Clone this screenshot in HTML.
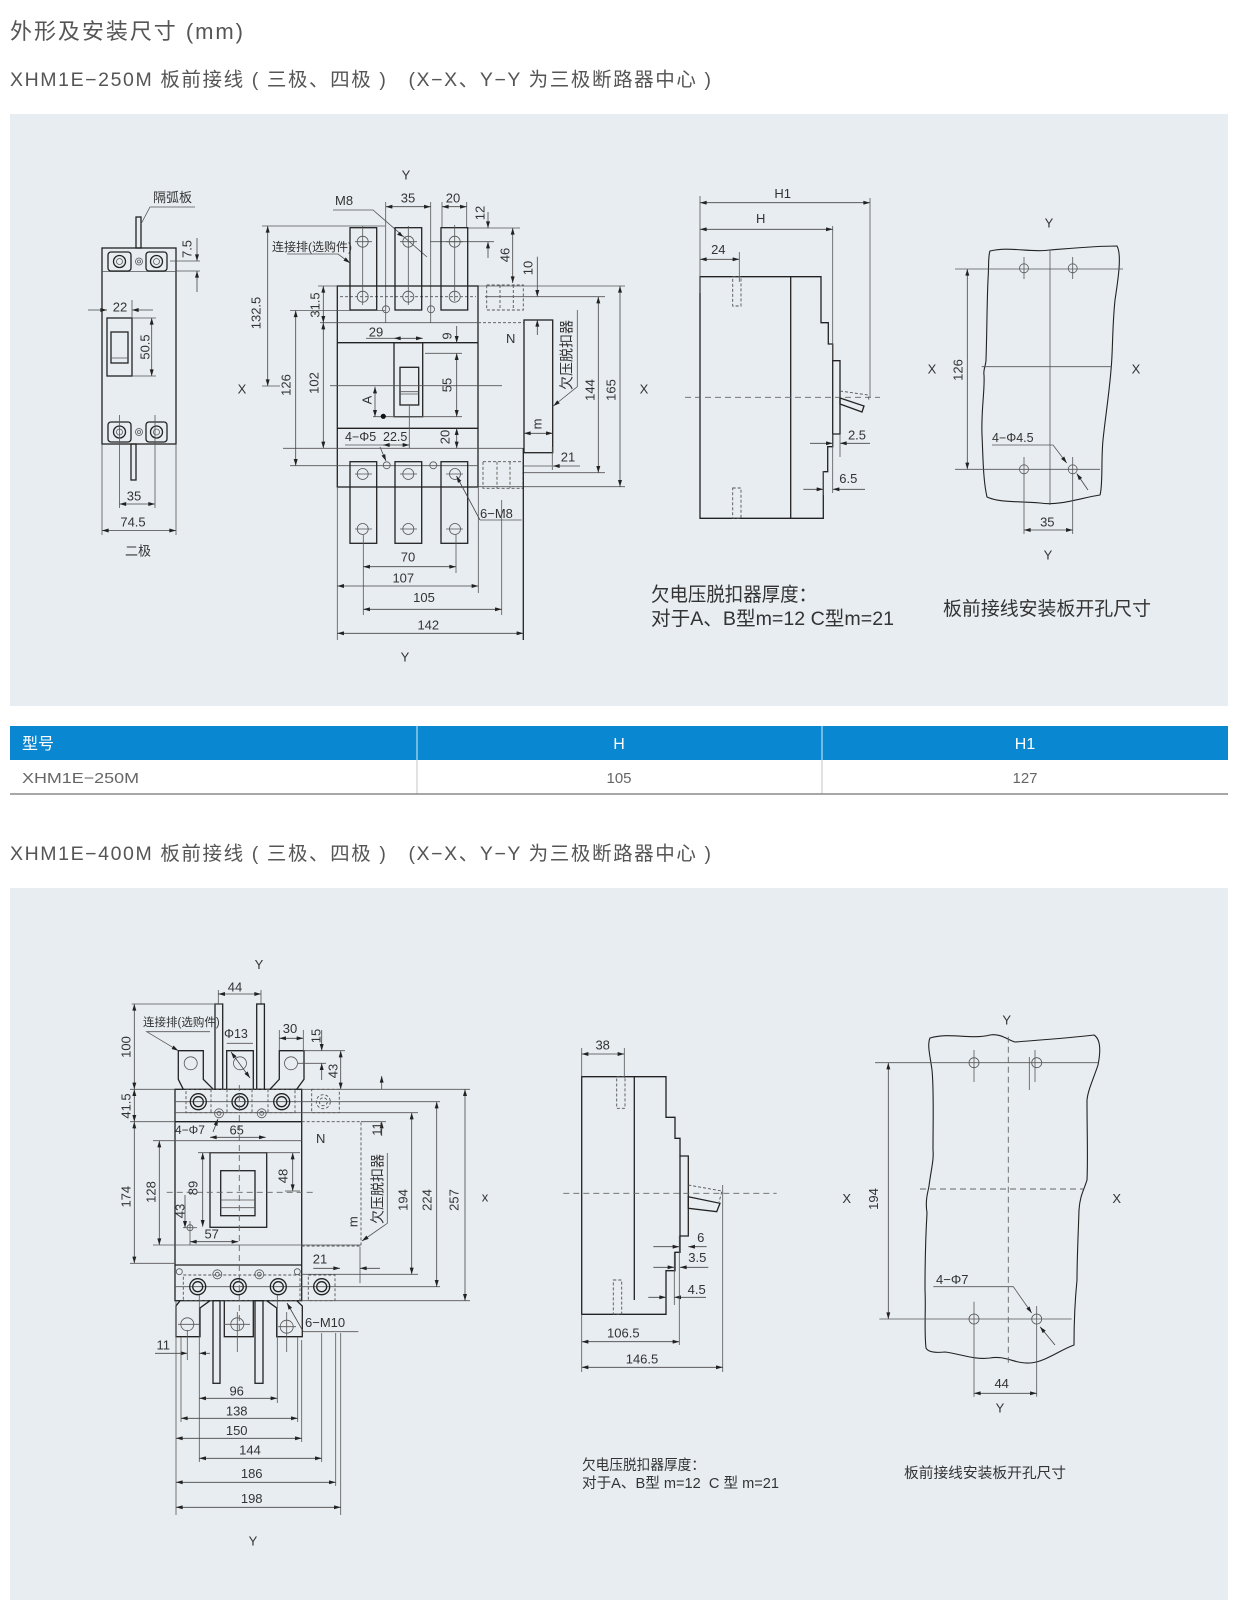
<!DOCTYPE html>
<html><head><meta charset="utf-8"><style>
html,body{margin:0;padding:0;background:#fff;}
svg{display:block}
text{font-family:"Liberation Sans","Noto Sans CJK SC",sans-serif;fill:#333;font-size:13px}
.o{stroke:#222;stroke-width:1.3;fill:none}
.t{stroke:#555;stroke-width:0.8;fill:none}
.dd{stroke:#444;stroke-width:0.8;fill:none;marker-start:url(#ar);marker-end:url(#ar)}
.d1{stroke:#444;stroke-width:0.8;fill:none;marker-end:url(#ar)}
.da{stroke:#666;stroke-width:0.9;fill:none;stroke-dasharray:6 4}
.ds{stroke:#555;stroke-width:0.9;fill:none;stroke-dasharray:3 2}
.c{text-anchor:middle}
</style></head><body>
<svg width="1234" height="1600" viewBox="0 0 1234 1600" xmlns="http://www.w3.org/2000/svg">
<defs>
<marker id="ar" viewBox="0 0 10 6" refX="10" refY="3" markerWidth="7" markerHeight="4" orient="auto-start-reverse" markerUnits="userSpaceOnUse"><path d="M0,0 L10,3 L0,6 z" fill="#222"/></marker>
</defs>
<rect x="0" y="0" width="1234" height="1600" fill="#fff"/>

<!-- Header -->
<text x="10" y="39" style="font-size:22px;fill:#555" textLength="233" lengthAdjust="spacing">外形及安装尺寸 (mm)</text>
<text x="10" y="86" style="font-size:19.5px;fill:#555;white-space:pre" textLength="701" lengthAdjust="spacing">XHM1E−250M 板前接线 ( 三极、四极 )   (X−X、Y−Y 为三极断路器中心 )</text>

<!-- Panel 1 -->
<rect x="10" y="114" width="1218" height="592" fill="#e8edf1"/>

<!-- 2-pole view -->
<rect class="o" x="102" y="248" width="74" height="196"/>
<line class="t" x1="102" y1="271.5" x2="176" y2="271.5"/>
<rect class="o" x="108" y="252" width="23" height="19" rx="3"/>
<rect class="o" x="146" y="252" width="21" height="19" rx="3"/>
<circle class="o" cx="119.5" cy="261.5" r="6"/><circle class="t" cx="119.5" cy="261.5" r="3"/>
<circle class="o" cx="156.5" cy="261.5" r="6"/><circle class="t" cx="156.5" cy="261.5" r="3"/>
<circle class="t" cx="139" cy="261.5" r="3.5"/><circle class="t" cx="139" cy="261.5" r="1.5"/>
<rect class="o" x="136" y="217" width="5" height="31"/>
<polyline class="t" points="141,224 150,207 195,207"/>
<text x="153" y="202" style="font-size:13px">隔弧板</text>
<line class="t" x1="170" y1="261" x2="200" y2="261"/><line class="t" x1="176" y1="271" x2="200" y2="271"/>
<line class="d1" x1="197" y1="238" x2="197" y2="261"/><line class="d1" x1="197" y1="292" x2="197" y2="271"/>
<text class="c" transform="translate(187 249) rotate(-90)" dy="0.35em">7.5</text>
<rect class="o" x="107" y="318" width="25" height="58"/>
<rect class="o" x="111" y="332" width="17" height="31"/>
<line class="t" x1="111" y1="358" x2="128" y2="358"/>
<line class="d1" x1="88" y1="310" x2="107" y2="310"/><line class="d1" x1="153" y1="310" x2="132" y2="310"/>
<line class="t" x1="132" y1="300" x2="132" y2="318"/>
<text class="c" x="120" y="307" dy="0.35em">22</text>
<line class="t" x1="132" y1="318" x2="156" y2="318"/><line class="t" x1="132" y1="376" x2="156" y2="376"/>
<line class="dd" x1="151.7" y1="318" x2="151.7" y2="376"/>
<text class="c" transform="translate(145 347) rotate(-90)" dy="0.35em">50.5</text>
<rect class="o" x="108" y="422" width="23" height="20" rx="3"/>
<rect class="o" x="146" y="422" width="21" height="20" rx="3"/>
<circle class="o" cx="119.5" cy="432" r="6"/><circle class="t" cx="119.5" cy="432" r="3"/>
<circle class="o" cx="156.5" cy="432" r="6"/><circle class="t" cx="156.5" cy="432" r="3"/>
<circle class="t" cx="139" cy="432" r="3.5"/><circle class="t" cx="139" cy="432" r="1.5"/>
<rect class="o" x="131" y="444" width="5" height="36"/>
<line class="t" x1="119.5" y1="415" x2="119.5" y2="508"/><line class="t" x1="155" y1="415" x2="155" y2="508"/>
<line class="t" x1="102" y1="444" x2="102" y2="535"/><line class="t" x1="176" y1="444" x2="176" y2="535"/>
<line class="dd" x1="119.5" y1="504" x2="155" y2="504"/>
<text class="c" x="134" y="496" dy="0.35em">35</text>
<line class="dd" x1="102" y1="530.5" x2="176" y2="530.5"/>
<text class="c" x="133" y="522" dy="0.35em">74.5</text>
<text class="c" x="138" y="551" dy="0.35em">二极</text>

<!-- 3-pole main view -->
<text class="c" x="406" y="175" dy="0.35em">Y</text>
<text x="335" y="205">M8</text>
<polyline class="t" points="333,210 373,210 427,257"/>
<path d="M403,236.7 l-6,-2 3,-3 z" fill="#222"/>
<line class="t" x1="385.7" y1="202" x2="385.7" y2="323"/><line class="t" x1="430.7" y1="202" x2="430.7" y2="323"/>
<line class="dd" x1="385.7" y1="206.7" x2="430.7" y2="206.7"/>
<text class="c" x="408" y="198" dy="0.35em">35</text>
<line class="t" x1="442" y1="202" x2="442" y2="228"/><line class="t" x1="466.7" y1="202" x2="466.7" y2="228"/>
<line class="dd" x1="442" y1="206.7" x2="466.7" y2="206.7"/>
<text class="c" x="453" y="198" dy="0.35em">20</text>
<line class="t" x1="466.7" y1="228" x2="520" y2="228"/><line class="t" x1="430" y1="241.7" x2="494" y2="241.7"/>
<line class="d1" x1="488" y1="212" x2="488" y2="228"/><line class="d1" x1="488" y1="258" x2="488" y2="241.7"/>
<text class="c" transform="translate(480 213) rotate(-90)" dy="0.35em">12</text>
<line class="dd" x1="512.7" y1="228" x2="512.7" y2="283"/>
<text class="c" transform="translate(505 255) rotate(-90)" dy="0.35em">46</text>
<line class="d1" x1="537.3" y1="256.7" x2="537.3" y2="296.7"/><line class="d1" x1="537.3" y1="335" x2="537.3" y2="320"/>
<text class="c" transform="translate(528 268) rotate(-90)" dy="0.35em">10</text>
<line class="t" x1="478" y1="286" x2="625" y2="286"/><line class="t" x1="485" y1="296.7" x2="605" y2="296.7"/>
<!-- body -->
<rect class="o" x="337.3" y="286" width="140.7" height="201"/>
<line class="o" x1="337.3" y1="342.7" x2="478" y2="342.7"/>
<line class="o" x1="337.3" y1="428.3" x2="478" y2="428.3"/>
<line class="t" x1="320" y1="322.7" x2="478" y2="322.7"/>
<line class="ds" x1="478" y1="322.7" x2="524" y2="322.7"/>
<line class="ds" x1="340" y1="296.7" x2="476" y2="296.7"/>
<!-- top terminals -->
<rect class="o" x="350" y="227.7" width="26.7" height="82.3"/>
<rect class="o" x="395" y="227.7" width="26.7" height="82.3"/>
<rect class="o" x="441" y="227.7" width="26.7" height="82.3"/>
<g class="t">
<circle cx="362.7" cy="241.7" r="5.5"/><circle cx="362.7" cy="296.7" r="5.5"/>
<circle cx="408.3" cy="241.7" r="5.5"/><circle cx="408.3" cy="296.7" r="5.5"/>
<circle cx="454.7" cy="241.7" r="5.5"/><circle cx="454.7" cy="296.7" r="5.5"/>
<line x1="362.7" y1="226" x2="362.7" y2="305"/><line x1="408.3" y1="226" x2="408.3" y2="305"/><line x1="454.7" y1="225" x2="454.7" y2="301"/>
<line x1="355" y1="241.7" x2="372" y2="241.7"/><line x1="400" y1="241.7" x2="417" y2="241.7"/><line x1="446" y1="241.7" x2="463" y2="241.7"/>
<circle cx="386" cy="309.3" r="3.5"/><circle cx="431" cy="309.3" r="3.5"/>
</g>
<rect class="ds" x="486.7" y="285" width="36.6" height="25"/>
<line class="ds" x1="500" y1="285" x2="500" y2="310"/><line class="ds" x1="513.3" y1="285" x2="513.3" y2="310"/>
<!-- handle -->
<rect class="o" x="394" y="342.7" width="28.7" height="74"/>
<rect class="o" x="400" y="367.3" width="18.7" height="37.7"/>
<line class="t" x1="400" y1="391.7" x2="418.7" y2="391.7"/><line class="t" x1="400" y1="394" x2="418.7" y2="394"/>
<line class="t" x1="330" y1="385.7" x2="502" y2="385.7"/>
<line class="t" x1="425" y1="353.3" x2="462" y2="353.3"/><line class="t" x1="373" y1="416.7" x2="462" y2="416.7"/>
<line class="dd" x1="456.7" y1="353.3" x2="456.7" y2="416.7"/>
<text class="c" transform="translate(447 385) rotate(-90)" dy="0.35em">55</text>
<line class="d1" x1="456.7" y1="326" x2="456.7" y2="342.7"/>
<text class="c" transform="translate(447 336) rotate(-90)" dy="0.35em">9</text>
<line class="t" x1="366" y1="338.3" x2="394" y2="338.3"/>
<line class="dd" x1="394" y1="338.3" x2="422.7" y2="338.3"/>
<text class="c" x="376" y="332" dy="0.35em">29</text>
<line class="dd" x1="375" y1="386.7" x2="375" y2="416.7"/>
<text class="c" transform="translate(367 400) rotate(-90)" dy="0.35em">A</text>
<circle cx="383.3" cy="416.3" r="2.6" fill="#111"/>
<line class="t" x1="409.3" y1="405" x2="409.3" y2="448"/>
<text x="345" y="441" style="font-size:12.5px">4−Φ5</text>
<text x="383" y="441" style="font-size:12.5px">22.5</text>
<line class="t" x1="345" y1="445" x2="383" y2="445"/>
<line class="dd" x1="383" y1="445" x2="409.3" y2="445"/>
<line class="dd" x1="456.7" y1="428.3" x2="456.7" y2="448.3"/>
<text class="c" transform="translate(445 437) rotate(-90)" dy="0.35em">20</text>
<line class="d1" x1="380" y1="447" x2="386" y2="461"/>
<line class="t" x1="283" y1="448.3" x2="523" y2="448.3"/>
<line class="t" x1="290" y1="465.7" x2="478" y2="465.7"/>
<g class="t"><circle cx="386.7" cy="465.3" r="3.5"/><circle cx="433.3" cy="465.3" r="3.5"/></g>
<!-- lower terminals -->
<rect class="o" x="350" y="461.7" width="26.7" height="81.6"/>
<rect class="o" x="395" y="461.7" width="26.7" height="81.6"/>
<rect class="o" x="441" y="461.7" width="26.7" height="81.6"/>
<g class="t">
<circle cx="362.7" cy="474" r="5.5"/><circle cx="362.7" cy="529" r="5.5"/>
<circle cx="408.3" cy="474" r="5.5"/><circle cx="408.3" cy="529" r="5.5"/>
<circle cx="455" cy="474" r="5.5"/><circle cx="455" cy="529" r="5.5"/>
<line x1="355" y1="474" x2="372" y2="474"/><line x1="355" y1="529" x2="372" y2="529"/>
<line x1="400" y1="474" x2="417" y2="474"/><line x1="400" y1="529" x2="417" y2="529"/>
<line x1="446" y1="474" x2="463" y2="474"/><line x1="446" y1="529" x2="463" y2="529"/>
</g>
<rect class="ds" x="483" y="461.7" width="40" height="26.6"/>
<line class="ds" x1="497" y1="461.7" x2="497" y2="488"/><line class="ds" x1="510" y1="461.7" x2="510" y2="488"/>
<!-- undervoltage -->
<text class="c" x="510.7" y="338.3" dy="0.35em">N</text>
<rect class="o" x="524" y="320" width="28.7" height="132.7"/>
<text class="c" transform="translate(566.5 355) rotate(-90)" dy="0.35em" style="font-size:14px">欠压脱扣器</text>
<polyline class="t" points="577.3,310 577.3,386.7 553.3,406" style="marker-end:url(#ar)"/>
<line class="dd" x1="524" y1="433.3" x2="552.7" y2="433.3"/>
<text class="c" transform="translate(536.7 424) rotate(-90)" dy="0.35em">m</text>
<line class="t" x1="552.3" y1="447" x2="552.3" y2="470"/>
<line class="t" x1="523" y1="466" x2="552" y2="466"/>
<line class="d1" x1="580" y1="466" x2="553" y2="466"/>
<text class="c" x="568" y="457" dy="0.35em">21</text>
<line class="t" x1="523" y1="472.7" x2="605" y2="472.7"/>
<line class="t" x1="478" y1="486.7" x2="625" y2="486.7"/>
<line class="dd" x1="598.3" y1="296.7" x2="598.3" y2="472.7"/>
<text class="c" transform="translate(590 390) rotate(-90)" dy="0.35em">144</text>
<line class="dd" x1="620" y1="286" x2="620" y2="486.7"/>
<text class="c" transform="translate(611 390) rotate(-90)" dy="0.35em">165</text>
<text x="480" y="518">6−M8</text>
<line class="t" x1="480" y1="520" x2="521.7" y2="520"/>
<line class="d1" x1="480" y1="520" x2="456.5" y2="476"/>
<!-- bottom dims -->
<line class="t" x1="337.3" y1="487" x2="337.3" y2="640"/>
<line class="t" x1="363.3" y1="535" x2="363.3" y2="615"/>
<line class="t" x1="456" y1="535" x2="456" y2="573"/>
<line class="t" x1="478.3" y1="487" x2="478.3" y2="593"/>
<line class="t" x1="501.7" y1="500" x2="501.7" y2="615"/>
<line class="o" x1="523.3" y1="448" x2="523.3" y2="640"/>
<line class="dd" x1="363.3" y1="566.7" x2="456" y2="566.7"/>
<text class="c" x="408" y="556.7" dy="0.35em">70</text>
<line class="dd" x1="337.3" y1="586" x2="478.3" y2="586"/>
<text class="c" x="403.3" y="578" dy="0.35em">107</text>
<line class="dd" x1="363.3" y1="609.3" x2="501.7" y2="609.3"/>
<text class="c" x="424" y="597.3" dy="0.35em">105</text>
<line class="dd" x1="337.3" y1="633.3" x2="523.3" y2="633.3"/>
<text class="c" x="428.3" y="625" dy="0.35em">142</text>
<text class="c" x="405" y="656.7" dy="0.35em">Y</text>
<!-- left dims -->
<line class="t" x1="262" y1="226" x2="385" y2="226"/>
<line class="dd" x1="267.7" y1="226" x2="267.7" y2="386"/>
<line class="t" x1="262" y1="386" x2="280" y2="386"/>
<text class="c" transform="translate(256 313) rotate(-90)" dy="0.35em">132.5</text>
<text x="272" y="251" style="font-size:12px">连接排(选购件)</text>
<polyline class="t" points="287,254 338,254 350,263" style="marker-end:url(#ar)"/>
<line class="t" x1="318" y1="286" x2="337.3" y2="286"/>
<line class="dd" x1="323.3" y1="286" x2="323.3" y2="322.7"/>
<text class="c" transform="translate(315 305) rotate(-90)" dy="0.35em">31.5</text>
<line class="t" x1="290" y1="310.5" x2="385" y2="310.5"/>
<line class="dd" x1="295.7" y1="310.5" x2="295.7" y2="465.7"/>
<text class="c" transform="translate(286 385) rotate(-90)" dy="0.35em">126</text>
<line class="dd" x1="323.3" y1="322.7" x2="323.3" y2="448.3"/>
<text class="c" transform="translate(314 383) rotate(-90)" dy="0.35em">102</text>
<text class="c" x="242" y="389" dy="0.35em">X</text>
<text class="c" x="644" y="389" dy="0.35em">X</text>

<!-- side view 1 -->
<path class="o" d="M700,276.7 H821 V322.7 H828.3 V344 H832.7 V360.7 H840 V434 H832.7 V446.7 H827.7 V471.7 H823.3 V518.3 H700 Z"/>
<line class="o" x1="832.7" y1="360.7" x2="832.7" y2="434"/>
<line class="o" x1="790.7" y1="276.7" x2="790.7" y2="518.3"/>
<rect class="ds" x="732.7" y="276.7" width="8.3" height="29.3"/>
<rect class="ds" x="732.7" y="488" width="8.3" height="30.3"/>
<line class="t" x1="700" y1="196" x2="700" y2="293"/>
<line class="t" x1="870" y1="198" x2="870" y2="397"/>
<line class="t" x1="832.7" y1="226" x2="832.7" y2="360"/>
<line class="t" x1="832.7" y1="434" x2="832.7" y2="493"/>
<line class="t" x1="739.3" y1="252" x2="739.3" y2="282"/>
<line class="dd" x1="700" y1="202.7" x2="870" y2="202.7"/>
<text class="c" x="782.7" y="193.3" dy="0.35em">H1</text>
<line class="dd" x1="700" y1="229.3" x2="832.7" y2="229.3"/>
<text class="c" x="760.7" y="218.3" dy="0.35em">H</text>
<line class="dd" x1="700" y1="259.3" x2="739.3" y2="259.3"/>
<text class="c" x="718.3" y="249.3" dy="0.35em">24</text>
<line class="da" x1="685" y1="397.3" x2="880" y2="397.3"/>
<polygon class="o" points="840,398 864,406 862,412 840,404"/>
<polyline class="ds" points="840,391 868,395 869,400"/>
<line class="d1" x1="810" y1="443.3" x2="832.7" y2="443.3"/><line class="d1" x1="870" y1="443.3" x2="840" y2="443.3"/>
<line class="t" x1="840" y1="434" x2="840" y2="457"/>
<text class="c" x="857" y="435" dy="0.35em">2.5</text>
<line class="d1" x1="803.3" y1="489.3" x2="823.3" y2="489.3"/><line class="d1" x1="865" y1="489.3" x2="832.7" y2="489.3"/>
<line class="t" x1="823.3" y1="471" x2="823.3" y2="495"/>
<text class="c" x="848.3" y="478.3" dy="0.35em">6.5</text>
<text x="651" y="601" style="font-size:19.5px" textLength="166" lengthAdjust="spacingAndGlyphs">欠电压脱扣器厚度：</text>
<text x="651" y="625" style="font-size:19.5px" textLength="243" lengthAdjust="spacingAndGlyphs">对于A、B型m=12  C型m=21</text>

<!-- mounting plate 1 -->
<path class="o" style="stroke-width:1.1" d="M990,251 C1010,246 1030,253 1050,250 C1075,248 1095,246 1117,246 C1122,255 1118,280 1115,300 C1112,330 1113,350 1111,370 C1109,395 1105,420 1103,440 C1101,460 1103,485 1100,495 C1080,498 1060,506 1040,503 C1020,501 1000,503 987,497 C983,480 983,455 982,435 C981,410 985,390 984,375 C983,370 986,365 986,360 C987,330 987,300 988,280 C989,265 988,256 990,251 Z"/>
<line class="t" x1="955" y1="269" x2="1123" y2="269"/>
<line class="t" x1="955" y1="469.3" x2="1100" y2="469.3"/>
<line class="t" x1="981.7" y1="366.7" x2="1111.7" y2="366.7"/>
<line class="t" x1="1050" y1="250" x2="1050" y2="505"/>
<g class="t">
<circle cx="1024" cy="268.3" r="4.5"/><circle cx="1072.7" cy="268.3" r="4.5"/>
<circle cx="1024" cy="469.3" r="4.5"/><circle cx="1072.7" cy="469.3" r="4.5"/>
<line x1="1024" y1="257" x2="1024" y2="279"/><line x1="1072.7" y1="257" x2="1072.7" y2="279"/>
<line x1="1024" y1="457" x2="1024" y2="534"/><line x1="1072.7" y1="457" x2="1072.7" y2="534"/>
</g>
<line class="dd" x1="967.3" y1="269" x2="967.3" y2="469.3"/>
<text class="c" transform="translate(958 370) rotate(-90)" dy="0.35em">126</text>
<text class="c" x="932" y="369" dy="0.35em">X</text>
<text class="c" x="1136" y="369" dy="0.35em">X</text>
<text class="c" x="1049" y="222.7" dy="0.35em">Y</text>
<text class="c" x="1048" y="555" dy="0.35em">Y</text>
<text x="992" y="442" style="font-size:12.5px">4−Φ4.5</text>
<polyline class="t" points="992,445 1053,445 1066.7,463" style="marker-end:url(#ar)"/>
<line class="d1" x1="1088" y1="490" x2="1076.7" y2="473.5"/>
<line class="dd" x1="1024" y1="530" x2="1072.7" y2="530"/>
<text class="c" x="1047.3" y="521.7" dy="0.35em">35</text>
<text x="943" y="615" style="font-size:19px" textLength="208" lengthAdjust="spacingAndGlyphs">板前接线安装板开孔尺寸</text>

<!-- Table -->
<rect x="10" y="726" width="1218" height="34" fill="#0a87d1"/>
<line x1="417" y1="726" x2="417" y2="760" stroke="#d8ecf8" stroke-width="1"/>
<line x1="822" y1="726" x2="822" y2="760" stroke="#d8ecf8" stroke-width="1"/>
<text x="22" y="749" style="font-size:16px;fill:#fff">型号</text>
<text class="c" x="619" y="749" style="font-size:16px;fill:#fff">H</text>
<text class="c" x="1025" y="749" style="font-size:16px;fill:#fff">H1</text>
<line x1="417" y1="760" x2="417" y2="794" stroke="#c4c4c4" stroke-width="1"/>
<line x1="822" y1="760" x2="822" y2="794" stroke="#c4c4c4" stroke-width="1"/>
<text x="22" y="783" style="font-size:15px;fill:#666" textLength="117" lengthAdjust="spacingAndGlyphs">XHM1E−250M</text>
<text class="c" x="619" y="783" style="font-size:15px;fill:#666">105</text>
<text class="c" x="1025" y="783" style="font-size:15px;fill:#666">127</text>
<line x1="10" y1="794" x2="1228" y2="794" stroke="#8a8a8a" stroke-width="1.5"/>

<text x="10" y="860" style="font-size:19.5px;fill:#555;white-space:pre" textLength="701" lengthAdjust="spacing">XHM1E−400M 板前接线 ( 三极、四极 )   (X−X、Y−Y 为三极断路器中心 )</text>

<!-- Panel 2 -->
<rect x="10" y="888" width="1218" height="712" fill="#e8edf1"/>

<!-- main view 2 -->
<text class="c" x="259" y="964.3" dy="0.35em">Y</text>
<line class="t" x1="218.3" y1="990" x2="218.3" y2="1004"/><line class="t" x1="261" y1="990" x2="261" y2="1004"/>
<line class="dd" x1="218.3" y1="994" x2="261" y2="994"/>
<text class="c" x="235" y="986.7" dy="0.35em">44</text>
<rect class="o" x="215" y="1004" width="7.7" height="85.3"/>
<rect class="o" x="256.7" y="1004" width="7.7" height="85.3"/>
<line class="t" x1="131.7" y1="1004" x2="222" y2="1004"/>
<path class="o" d="M183.3,1089.3 L178.3,1079.3 V1050.7 H203.3 V1079.3 L213.3,1089.3"/>
<path class="o" d="M226.7,1089.3 V1050.7 H253.3 V1089.3"/>
<path class="o" d="M270,1089.3 L279.3,1079.3 V1050.7 H304 V1079.3 L296.7,1089.3"/>
<g class="t">
<circle cx="190.7" cy="1063.3" r="6.5"/><circle cx="240" cy="1063.3" r="6.5"/><circle cx="291" cy="1063.3" r="6.5"/>
</g>
<text x="143" y="1026" style="font-size:11.5px">连接排(选购件)</text>
<polyline class="t" points="210,1031.7 146.7,1031.7 178.3,1050.7" style="marker-end:url(#ar)"/>
<text x="224" y="1038" style="font-size:12.5px">Φ13</text>
<line class="t" x1="226.7" y1="1043.3" x2="253" y2="1043.3"/>
<line class="dd" x1="231" y1="1052" x2="250" y2="1078"/>
<line class="t" x1="279.3" y1="1030" x2="279.3" y2="1050.7"/><line class="t" x1="303.3" y1="1030" x2="303.3" y2="1050.7"/>
<line class="dd" x1="279.3" y1="1038.3" x2="303.3" y2="1038.3"/>
<text class="c" x="290" y="1028.3" dy="0.35em">30</text>
<line class="t" x1="304" y1="1050.7" x2="345" y2="1050.7"/>
<line class="t" x1="298" y1="1063.3" x2="326" y2="1063.3"/>
<line class="d1" x1="321.7" y1="1030" x2="321.7" y2="1050.7"/>
<line class="d1" x1="321.7" y1="1080" x2="321.7" y2="1063.3"/>
<text class="c" transform="translate(316 1036) rotate(-90)" dy="0.35em">15</text>
<line class="dd" x1="340.7" y1="1050.7" x2="340.7" y2="1089.3"/>
<text class="c" transform="translate(333 1071) rotate(-90)" dy="0.35em">43</text>
<!-- body -->
<rect class="o" x="175" y="1089.3" width="126.7" height="211.4"/>
<line class="o" x1="175" y1="1121.7" x2="301.7" y2="1121.7"/>
<line class="o" x1="175" y1="1265" x2="301.7" y2="1265"/>
<line class="t" x1="130" y1="1089.3" x2="175" y2="1089.3"/>
<line class="t" x1="301.7" y1="1089.3" x2="470" y2="1089.3"/>
<line class="t" x1="175" y1="1101.7" x2="440" y2="1101.7"/>
<line class="t" x1="175" y1="1112.7" x2="418" y2="1112.7"/>
<line class="t" x1="130" y1="1121.7" x2="175" y2="1121.7"/>
<line class="t" x1="153" y1="1140.7" x2="301.7" y2="1140.7"/>
<line class="t" x1="153" y1="1245" x2="361" y2="1245"/>
<line class="t" x1="130" y1="1263.3" x2="175" y2="1263.3"/>
<line class="t" x1="301.7" y1="1274.3" x2="418" y2="1274.3"/>
<line class="t" x1="175" y1="1286.7" x2="440" y2="1286.7"/>
<line class="t" x1="301.7" y1="1300.7" x2="470" y2="1300.7"/>
<rect class="ds" x="186" y="1089.3" width="109" height="23.4"/>
<line class="ds" x1="211" y1="1089.3" x2="211" y2="1112.7"/><line class="ds" x1="227" y1="1089.3" x2="227" y2="1112.7"/>
<line class="ds" x1="252" y1="1089.3" x2="252" y2="1112.7"/><line class="ds" x1="268" y1="1089.3" x2="268" y2="1112.7"/>
<g class="o">
<circle cx="198.3" cy="1101.7" r="8"/><circle cx="198.3" cy="1101.7" r="5"/>
<circle cx="240" cy="1101.7" r="8"/><circle cx="240" cy="1101.7" r="5"/>
<circle cx="281.7" cy="1101.7" r="8"/><circle cx="281.7" cy="1101.7" r="5"/>
</g>
<g class="t"><circle cx="219" cy="1113.3" r="4.5"/><circle cx="219" cy="1113.3" r="2"/><circle cx="261.7" cy="1113.3" r="4.5"/><circle cx="261.7" cy="1113.3" r="2"/></g>
<rect class="ds" x="311.7" y="1089.3" width="27.6" height="23.4"/>
<circle class="ds" cx="323.3" cy="1101.7" r="7"/><circle class="ds" cx="323.3" cy="1101.7" r="4"/>
<text x="175" y="1134" style="font-size:12px">4−Φ7</text>
<line class="d1" x1="213" y1="1132" x2="218" y2="1119"/>
<line class="dd" x1="210" y1="1137.3" x2="265.7" y2="1137.3"/>
<text class="c" x="236.7" y="1130" dy="0.35em">65</text>
<rect class="o" x="210" y="1152.7" width="56.7" height="74.6"/>
<rect class="o" x="220.7" y="1170.7" width="34.3" height="45"/>
<line class="t" x1="220.7" y1="1200" x2="255" y2="1200"/><line class="t" x1="220.7" y1="1207.7" x2="255" y2="1207.7"/>
<line class="da" x1="239.3" y1="1085" x2="239.3" y2="1330"/>
<line class="da" x1="166.7" y1="1192.3" x2="316.7" y2="1192.3"/>
<line class="t" x1="198" y1="1152.7" x2="300" y2="1152.7"/>
<line class="t" x1="285" y1="1191" x2="300" y2="1191"/>
<line class="dd" x1="292.7" y1="1152.7" x2="292.7" y2="1191"/>
<text class="c" transform="translate(283 1176) rotate(-90)" dy="0.35em">48</text>
<line class="dd" x1="202.7" y1="1152.7" x2="202.7" y2="1226.7"/>
<text class="c" transform="translate(193 1188) rotate(-90)" dy="0.35em">89</text>
<line class="d1" x1="185" y1="1195" x2="185" y2="1227.7"/>
<text class="c" transform="translate(180 1211) rotate(-90)" dy="0.35em">43</text>
<circle class="t" cx="190" cy="1227.7" r="3"/>
<line class="t" x1="183" y1="1227.7" x2="197" y2="1227.7"/><line class="t" x1="190" y1="1221" x2="190" y2="1245"/>
<line class="dd" x1="190" y1="1241.7" x2="238.3" y2="1241.7"/>
<text class="c" x="211.7" y="1234" dy="0.35em">57</text>
<line class="dd" x1="134.3" y1="1004" x2="134.3" y2="1089.3"/>
<text class="c" transform="translate(126 1047) rotate(-90)" dy="0.35em">100</text>
<line class="dd" x1="134.3" y1="1089.3" x2="134.3" y2="1121.7"/>
<text class="c" transform="translate(126 1106) rotate(-90)" dy="0.35em">41.5</text>
<line class="dd" x1="134.3" y1="1121.7" x2="134.3" y2="1263.3"/>
<text class="c" transform="translate(126 1196.7) rotate(-90)" dy="0.35em">174</text>
<line class="dd" x1="159.3" y1="1140.7" x2="159.3" y2="1245"/>
<text class="c" transform="translate(151 1192) rotate(-90)" dy="0.35em">128</text>
<!-- undervoltage 2 -->
<path class="ds" d="M301.7,1121.7 H361 V1246 H301.7"/>
<text class="c" x="320.7" y="1138.3" dy="0.35em">N</text>
<text class="c" transform="translate(353 1221.7) rotate(-90)" dy="0.35em">m</text>
<text class="c" transform="translate(377.5 1189) rotate(-90)" dy="0.35em" style="font-size:14px">欠压脱扣器</text>
<polyline class="t" points="387.3,1153 387.3,1223.3 362,1241" style="marker-end:url(#ar)"/>
<line class="d1" x1="381.7" y1="1089.3" x2="381.7" y2="1076"/>
<line class="d1" x1="381.7" y1="1136" x2="381.7" y2="1121.7"/>
<line class="t" x1="361" y1="1121.7" x2="386" y2="1121.7"/>
<text class="c" transform="translate(377 1129) rotate(-90)" dy="0.35em">11</text>
<line class="dd" x1="411.7" y1="1112.7" x2="411.7" y2="1274.3"/>
<text class="c" transform="translate(403 1200) rotate(-90)" dy="0.35em">194</text>
<line class="dd" x1="436.7" y1="1101.7" x2="436.7" y2="1286.7"/>
<text class="c" transform="translate(426.7 1200) rotate(-90)" dy="0.35em">224</text>
<line class="dd" x1="465" y1="1089.3" x2="465" y2="1300.7"/>
<text class="c" transform="translate(454 1200) rotate(-90)" dy="0.35em">257</text>
<text class="c" x="485" y="1196.7" dy="0.35em">x</text>
<!-- bottom block -->
<rect class="ds" x="183.3" y="1275" width="116.7" height="25.7"/>
<rect class="ds" x="308.3" y="1275" width="26.7" height="25.7"/>
<g class="o">
<circle cx="197.7" cy="1286.7" r="8"/><circle cx="197.7" cy="1286.7" r="5"/>
<circle cx="238.3" cy="1286.7" r="8"/><circle cx="238.3" cy="1286.7" r="5"/>
<circle cx="278.3" cy="1286.7" r="8"/><circle cx="278.3" cy="1286.7" r="5"/>
<circle cx="321.7" cy="1286.7" r="8"/><circle cx="321.7" cy="1286.7" r="5"/>
</g>
<g class="t">
<circle cx="217.3" cy="1274.3" r="4.5"/><circle cx="217.3" cy="1274.3" r="2"/>
<circle cx="259.3" cy="1274.3" r="4.5"/><circle cx="259.3" cy="1274.3" r="2"/>
<circle cx="179.3" cy="1271.7" r="3"/><circle cx="297.3" cy="1271.7" r="3"/>
</g>
<line class="t" x1="360" y1="1246.7" x2="360" y2="1283.3"/>
<line class="d1" x1="313.3" y1="1268.3" x2="340" y2="1268.3"/>
<line class="d1" x1="380" y1="1268.3" x2="360" y2="1268.3"/>
<text class="c" x="320" y="1259" dy="0.35em">21</text>
<rect class="o" x="213" y="1300.7" width="7" height="82.6"/>
<rect class="o" x="255" y="1300.7" width="8" height="82.6"/>
<path class="o" d="M180,1300.7 L176,1306 V1336.7 H200 V1308 L210,1300.7"/>
<path class="o" d="M224.3,1300.7 V1336.7 H253.3 V1300.7"/>
<path class="o" d="M266.7,1300.7 L276.7,1308 V1336.7 H302.3 V1306 L296.7,1300.7"/>
<g class="t">
<circle cx="187.3" cy="1324.3" r="6.5"/><circle cx="237.3" cy="1324.3" r="6.5"/><circle cx="286.7" cy="1326.7" r="6.5"/>
<line x1="178" y1="1324.3" x2="199" y2="1324.3"/><line x1="224" y1="1324.3" x2="250" y2="1324.3"/><line x1="278" y1="1326.7" x2="296" y2="1326.7"/>
<line x1="237.3" y1="1312" x2="237.3" y2="1352"/><line x1="286.7" y1="1312" x2="286.7" y2="1352"/>
</g>
<text x="305" y="1327">6−M10</text>
<line class="t" x1="303.3" y1="1331.7" x2="358.3" y2="1331.7"/>
<line class="d1" x1="303.3" y1="1331.7" x2="287" y2="1303"/>
<line class="d1" x1="155" y1="1353.3" x2="187.3" y2="1353.3"/>
<line class="d1" x1="210" y1="1353.3" x2="199.3" y2="1353.3"/>
<text class="c" x="163.3" y="1345" dy="0.35em">11</text>
<g class="t">
<line x1="176" y1="1300.7" x2="176" y2="1515"/>
<line x1="181" y1="1336.7" x2="181" y2="1422"/>
<line x1="187.3" y1="1330" x2="187.3" y2="1360"/>
<line x1="199.3" y1="1295" x2="199.3" y2="1462"/>
<line x1="277.3" y1="1295" x2="277.3" y2="1403"/>
<line x1="297.7" y1="1336.7" x2="297.7" y2="1422"/>
<line x1="301.7" y1="1340" x2="301.7" y2="1442"/>
<line x1="321.7" y1="1333" x2="321.7" y2="1462"/>
<line x1="335.7" y1="1333" x2="335.7" y2="1486"/>
<line x1="340.7" y1="1333" x2="340.7" y2="1515"/>
</g>
<line class="dd" x1="199.3" y1="1398.3" x2="277.3" y2="1398.3"/>
<text class="c" x="236.7" y="1391" dy="0.35em">96</text>
<line class="dd" x1="181" y1="1418.3" x2="297.7" y2="1418.3"/>
<text class="c" x="236.7" y="1411" dy="0.35em">138</text>
<line class="dd" x1="176" y1="1438.3" x2="301.7" y2="1438.3"/>
<text class="c" x="236.7" y="1430.5" dy="0.35em">150</text>
<line class="dd" x1="199.3" y1="1458.3" x2="321.7" y2="1458.3"/>
<text class="c" x="250" y="1450" dy="0.35em">144</text>
<line class="dd" x1="176" y1="1482.3" x2="335.7" y2="1482.3"/>
<text class="c" x="251.7" y="1473.3" dy="0.35em">186</text>
<line class="dd" x1="176" y1="1507.3" x2="340.7" y2="1507.3"/>
<text class="c" x="251.7" y="1498.3" dy="0.35em">198</text>
<text class="c" x="253" y="1541" dy="0.35em">Y</text>

<!-- side view 2 -->
<path class="o" d="M581.7,1076.7 H666 V1117.3 H675 V1138.3 H680 V1156 H688.3 V1236 H680 V1252.3 H675 V1270.7 H666 V1314.3 H581.7 Z"/>
<line class="o" x1="680" y1="1156" x2="680" y2="1236"/>
<line class="o" x1="634.3" y1="1076.7" x2="634.3" y2="1300"/>
<rect class="ds" x="616.7" y="1076.7" width="8.3" height="31.6"/>
<rect class="ds" x="613.3" y="1280" width="8.4" height="34.3"/>
<line class="da" x1="563.3" y1="1193.3" x2="776.7" y2="1193.3"/>
<polygon class="o" points="688.3,1196.7 720,1203.3 716.7,1211.7 688.3,1208.3"/>
<polyline class="ds" points="688.3,1185 722,1191 719,1202"/>
<line class="t" x1="722.7" y1="1185" x2="722.7" y2="1372"/>
<line class="t" x1="581.7" y1="1048" x2="581.7" y2="1076.7"/>
<line class="t" x1="624.3" y1="1048" x2="624.3" y2="1078"/>
<line class="dd" x1="581.7" y1="1054" x2="624.3" y2="1054"/>
<text class="c" x="602.7" y="1045" dy="0.35em">38</text>
<line class="d1" x1="653.3" y1="1246.7" x2="679.3" y2="1246.7"/><line class="d1" x1="706.7" y1="1246.7" x2="688.3" y2="1246.7"/>
<text class="c" x="700.7" y="1237.3" dy="0.35em">6</text>
<line class="d1" x1="653.3" y1="1267.3" x2="674.3" y2="1267.3"/><line class="d1" x1="708.3" y1="1267.3" x2="680" y2="1267.3"/>
<text class="c" x="697.3" y="1257.3" dy="0.35em">3.5</text>
<line class="d1" x1="648.3" y1="1297.3" x2="666" y2="1297.3"/><line class="d1" x1="706" y1="1297.3" x2="674.3" y2="1297.3"/>
<text class="c" x="696.7" y="1289.3" dy="0.35em">4.5</text>
<line class="t" x1="674.3" y1="1252" x2="674.3" y2="1305"/>
<line class="t" x1="679.3" y1="1236" x2="679.3" y2="1345"/>
<line class="t" x1="581.7" y1="1314" x2="581.7" y2="1372"/>
<line class="dd" x1="581.7" y1="1341.7" x2="679.3" y2="1341.7"/>
<text class="c" x="623.3" y="1332.7" dy="0.35em">106.5</text>
<line class="dd" x1="581.7" y1="1367.3" x2="722.7" y2="1367.3"/>
<text class="c" x="642" y="1359" dy="0.35em">146.5</text>
<text x="582" y="1470" style="font-size:14.5px" textLength="123" lengthAdjust="spacingAndGlyphs">欠电压脱扣器厚度：</text>
<text x="582" y="1488" style="font-size:14.5px;white-space:pre" textLength="197" lengthAdjust="spacingAndGlyphs">对于A、B型 m=12  C 型 m=21</text>

<!-- mounting plate 2 -->
<path class="o" style="stroke-width:1.1" d="M930,1038 C950,1032 970,1040 990,1035 C1000,1033 1008,1040 1015,1042 C1040,1040 1070,1038 1094,1035 C1102,1040 1100,1055 1098,1065 C1093,1080 1088,1090 1087,1100 C1087,1130 1088,1160 1087,1180 C1084,1190 1080,1195 1079,1210 C1078,1240 1077,1260 1077,1280 C1075,1300 1074,1320 1074,1345 C1060,1350 1045,1362 1030,1363 C1015,1364 1005,1355 990,1358 C975,1360 960,1354 945,1352 C935,1353 928,1352 926,1348 C924,1330 926,1310 925,1290 C925,1260 926,1230 927,1213 C925,1200 928,1192 929,1186 C931,1170 934,1160 933,1150 C933,1120 934,1090 932,1070 C930,1055 927,1045 930,1038 Z"/>
<line class="t" x1="875" y1="1062.7" x2="1098.3" y2="1062.7"/>
<line class="t" x1="879.3" y1="1319" x2="1071.7" y2="1319"/>
<line class="da" x1="920" y1="1189" x2="1083.3" y2="1189"/>
<line class="da" x1="1008.3" y1="1036.7" x2="1008.3" y2="1366.7"/>
<g class="t">
<circle cx="974" cy="1062.7" r="5"/><circle cx="1036.7" cy="1062.7" r="5"/>
<circle cx="974" cy="1319" r="5"/><circle cx="1036.7" cy="1319" r="5"/>
<line x1="974" y1="1050" x2="974" y2="1082"/><line x1="1035" y1="1050" x2="1035" y2="1082"/><line x1="1029.3" y1="1057" x2="1029.3" y2="1090"/>
<line x1="974" y1="1301.7" x2="974" y2="1396.7"/><line x1="1036.7" y1="1306" x2="1036.7" y2="1396.7"/>
</g>
<line class="dd" x1="888.3" y1="1062.7" x2="888.3" y2="1319"/>
<text class="c" transform="translate(873.3 1199) rotate(-90)" dy="0.35em">194</text>
<text class="c" x="846.7" y="1198.3" dy="0.35em">X</text>
<text class="c" x="1116.7" y="1198.3" dy="0.35em">X</text>
<text class="c" x="1006.7" y="1020" dy="0.35em">Y</text>
<text class="c" x="1000" y="1408" dy="0.35em">Y</text>
<text x="936" y="1284">4−Φ7</text>
<polyline class="t" points="933.3,1286.7 1013.3,1286.7 1031.7,1313" style="marker-end:url(#ar)"/>
<line class="d1" x1="1055" y1="1345" x2="1040" y2="1326.7"/>
<line class="dd" x1="974" y1="1393.3" x2="1036.7" y2="1393.3"/>
<text class="c" x="1001.7" y="1383.3" dy="0.35em">44</text>
<text x="904" y="1478" style="font-size:14.5px" textLength="162" lengthAdjust="spacingAndGlyphs">板前接线安装板开孔尺寸</text>
</svg>
</body></html>
